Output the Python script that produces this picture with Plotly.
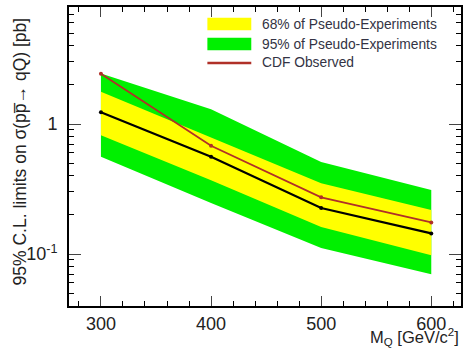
import plotly.graph_objects as go

mass = [300, 400, 500, 600]
observed = [2.43, 0.68, 0.273, 0.175]
expected = [1.23, 0.56, 0.226, 0.144]
band68_hi = [1.77, 0.79, 0.35, 0.218]
band68_lo = [0.82, 0.37, 0.161, 0.098]
band95_hi = [2.45, 1.30, 0.51, 0.31]
band95_lo = [0.56, 0.247, 0.111, 0.070]

legend_labels = ["68% of Pseudo-Experiments", "95% of Pseudo-Experiments", "CDF Observed"]
x_ticks = [300, 400, 500, 600]
y_ticks = [0.1, 1]
y_ticktext = ["10<sup>-1</sup>", "1"]
y_minor = [0.05, 0.06, 0.07, 0.08, 0.09, 0.2, 0.3, 0.4, 0.5, 0.6, 0.7, 0.8, 0.9, 2, 3, 4, 5, 6, 7]

GREEN = "#00f000"
YELLOW = "#ffff00"
RED = "#b03028"
FONT = "Liberation Sans, Arial, sans-serif"
TXT = "#222222"

fig = go.Figure()
fig.add_trace(go.Scatter(x=mass + mass[::-1], y=band95_hi + band95_lo[::-1], fill="toself",
                         fillcolor=GREEN, line=dict(width=0), mode="lines", hoverinfo="skip"))
fig.add_trace(go.Scatter(x=mass + mass[::-1], y=band68_hi + band68_lo[::-1], fill="toself",
                         fillcolor=YELLOW, line=dict(width=0), mode="lines", hoverinfo="skip"))
fig.add_trace(go.Scatter(x=mass, y=expected, mode="lines+markers",
                         line=dict(color="black", width=2.2), marker=dict(color="black", size=4)))
fig.add_trace(go.Scatter(x=mass, y=observed, mode="lines+markers",
                         line=dict(color=RED, width=1.8), marker=dict(color=RED, size=4)))

# legend drawn as decorations (paper coords)
legend_colors = [YELLOW, GREEN]
x0, x1 = 0.353, 0.465
rows_y = [0.943, 0.876, 0.813]
for i, col in enumerate(legend_colors):
    fig.add_shape(type="rect", xref="paper", yref="paper", x0=x0, x1=x1,
                  y0=rows_y[i] - 0.021, y1=rows_y[i] + 0.021, fillcolor=col, line=dict(width=0))
fig.add_shape(type="line", xref="paper", yref="paper", x0=x0, x1=x1, y0=rows_y[2], y1=rows_y[2],
              line=dict(color=RED, width=2.5))
for i, lab in enumerate(legend_labels):
    fig.add_annotation(text=lab, xref="paper", yref="paper", x=0.486, y=rows_y[i],
                       xanchor="left", yanchor="middle", showarrow=False,
                       font=dict(family=FONT, size=13.8, color="#333344"))

fig.add_annotation(text="M<sub>Q</sub> [GeV/c<sup>2</sup>]", xref="paper", yref="paper",
                   x=1.0, y=-0.06, xanchor="right", yanchor="top", showarrow=False,
                   font=dict(family=FONT, size=16.5, color=TXT))
fig.add_annotation(text="95% C.L. limits on σ(pp\u0305\u2192 qQ) [pb]", xref="paper", yref="paper",
                   x=-0.125, y=0.517, xanchor="center", yanchor="middle", textangle=-90,
                   showarrow=False, font=dict(family=FONT, size=17.5, color=TXT))

fig.update_xaxes(range=[271, 627], tickvals=x_ticks, ticks="inside", ticklen=10, tickwidth=1.2,
                 showline=True, linecolor="black", linewidth=2, mirror="ticks", showgrid=False,
                 zeroline=False, tickfont=dict(family=FONT, size=18, color=TXT),
                 minor=dict(dtick=20, ticks="inside", ticklen=5, tickcolor="black", showgrid=False))
fig.update_yaxes(type="log", range=[-1.4, 0.9], tickvals=y_ticks, ticktext=y_ticktext,
                 ticks="inside", ticklen=12, tickwidth=1.2, showline=True, linecolor="black",
                 linewidth=2, mirror="ticks", showgrid=False, zeroline=False,
                 tickfont=dict(family=FONT, size=18, color=TXT), ticklabelstandoff=6,
                 minor=dict(tickvals=y_minor, ticks="inside", ticklen=5, tickcolor="black",
                            showgrid=False))

fig.update_layout(width=466, height=356, showlegend=False, plot_bgcolor="white",
                  paper_bgcolor="white", margin=dict(l=69, r=3, t=7, b=50))

fig.write_html("out.html", config={"displayModeBar": False},
               post_script="document.body.style.margin='0';")
